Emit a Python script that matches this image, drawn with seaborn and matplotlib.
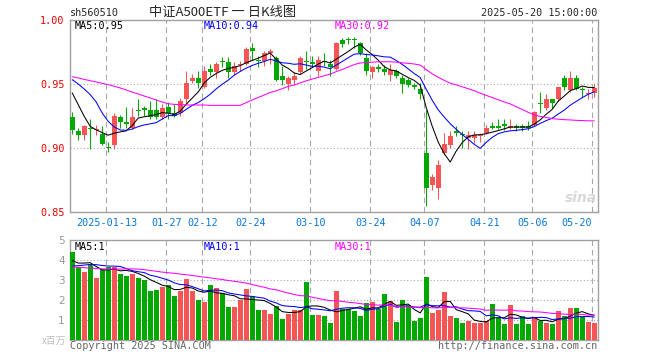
from __future__ import annotations

import matplotlib
matplotlib.use("Agg")
import matplotlib.pyplot as plt
import numpy as np
import pandas as pd
import seaborn as sns

FIG_W, FIG_H = 660, 360
RED = "#f65555"
GREEN = "#00a800"
MA_COLORS = {"MA5": "#000000", "MA10": "#0000ff", "MA30": "#ff00ff"}
MONO = "DejaVu Sans Mono"
CJK = ["Noto Sans CJK SC", "DejaVu Sans"]

# exchange closed on these weekdays
HOLIDAYS = [
    "2025-01-28", "2025-01-29", "2025-01-30", "2025-01-31", "2025-02-03",
    "2025-02-04", "2025-04-04", "2025-05-01", "2025-05-02", "2025-05-05",
]

OPEN = [
    0.924, 0.913, 0.910, 0.916, 0.914, 0.911, 0.901, 0.902, 0.924, 0.920,
    0.916, 0.930, 0.931, 0.930, 0.930, 0.924, 0.932, 0.927, 0.927, 0.938,
    0.952, 0.955, 0.948, 0.962, 0.959, 0.968, 0.967, 0.959, 0.965, 0.966,
    0.978, 0.969, 0.968, 0.974, 0.970, 0.956, 0.950, 0.953, 0.959, 0.968,
    0.967, 0.960, 0.968, 0.966, 0.962, 0.984, 0.985, 0.985, 0.982, 0.970,
    0.959, 0.963, 0.962, 0.957, 0.960, 0.955, 0.953, 0.949, 0.946, 0.896,
    0.871, 0.869, 0.896, 0.902, 0.913, 0.911, 0.908, 0.908, 0.909, 0.912,
    0.917, 0.917, 0.919, 0.916, 0.917, 0.917, 0.917, 0.918, 0.935, 0.931,
    0.938, 0.938, 0.955, 0.945, 0.955, 0.946, 0.942, 0.943,
]
HIGH = [
    0.928, 0.916, 0.918, 0.923, 0.918, 0.917, 0.905, 0.927, 0.926, 0.932,
    0.931, 0.938, 0.933, 0.937, 0.938, 0.934, 0.936, 0.934, 0.939, 0.960,
    0.958, 0.960, 0.964, 0.966, 0.967, 0.971, 0.971, 0.967, 0.968, 0.979,
    0.982, 0.972, 0.976, 0.977, 0.972, 0.964, 0.956, 0.959, 0.972, 0.976,
    0.972, 0.972, 0.974, 0.969, 0.983, 0.986, 0.987, 0.987, 0.983, 0.974,
    0.964, 0.966, 0.965, 0.966, 0.962, 0.957, 0.955, 0.951, 0.951, 0.930,
    0.880, 0.891, 0.912, 0.913, 0.917, 0.913, 0.913, 0.913, 0.912, 0.918,
    0.920, 0.923, 0.923, 0.923, 0.919, 0.919, 0.921, 0.929, 0.944, 0.942,
    0.938, 0.948, 0.957, 0.960, 0.957, 0.948, 0.946, 0.950,
]
LOW = [
    0.911, 0.906, 0.906, 0.899, 0.910, 0.902, 0.897, 0.899, 0.916, 0.916,
    0.915, 0.925, 0.925, 0.923, 0.923, 0.923, 0.923, 0.924, 0.925, 0.935,
    0.951, 0.947, 0.947, 0.957, 0.955, 0.963, 0.955, 0.957, 0.960, 0.965,
    0.969, 0.963, 0.964, 0.966, 0.952, 0.949, 0.945, 0.949, 0.958, 0.962,
    0.963, 0.956, 0.964, 0.956, 0.961, 0.979, 0.981, 0.978, 0.973, 0.957,
    0.955, 0.959, 0.957, 0.952, 0.955, 0.943, 0.948, 0.946, 0.938, 0.855,
    0.867, 0.860, 0.895, 0.900, 0.909, 0.900, 0.899, 0.904, 0.905, 0.911,
    0.915, 0.915, 0.914, 0.915, 0.913, 0.913, 0.914, 0.917, 0.927, 0.930,
    0.931, 0.937, 0.945, 0.944, 0.945, 0.940, 0.938, 0.940,
]
CLOSE = [
    0.914, 0.910, 0.917, 0.915, 0.915, 0.903, 0.900, 0.925, 0.920, 0.919,
    0.924, 0.929, 0.930, 0.924, 0.924, 0.931, 0.927, 0.925, 0.937, 0.951,
    0.955, 0.951, 0.960, 0.959, 0.966, 0.967, 0.959, 0.964, 0.966, 0.977,
    0.976, 0.968, 0.974, 0.976, 0.953, 0.953, 0.955, 0.956, 0.970, 0.967,
    0.966, 0.969, 0.967, 0.963, 0.982, 0.981, 0.984, 0.984, 0.974, 0.960,
    0.963, 0.962, 0.959, 0.961, 0.956, 0.950, 0.949, 0.948, 0.942, 0.869,
    0.877, 0.887, 0.903, 0.909, 0.912, 0.910, 0.910, 0.910, 0.910, 0.916,
    0.916, 0.916, 0.917, 0.917, 0.916, 0.916, 0.916, 0.928, 0.934, 0.938,
    0.935, 0.948, 0.948, 0.955, 0.946, 0.945, 0.943, 0.947,
]
# volume in millions (x百万)
VOLUME = [
    4.42, 3.65, 3.42, 3.78, 3.12, 3.57, 3.65, 3.65, 3.33, 3.22,
    3.33, 3.12, 3.00, 2.45, 2.53, 2.65, 2.78, 2.23, 2.48, 3.07,
    2.48, 2.03, 1.92, 2.78, 2.62, 2.37, 1.67, 1.67, 2.03, 2.57,
    2.23, 1.53, 1.53, 1.32, 1.70, 1.07, 1.32, 1.53, 1.53, 2.92,
    1.28, 1.28, 1.20, 0.87, 2.48, 1.58, 1.58, 1.48, 1.23, 1.87,
    1.92, 1.58, 2.32, 1.98, 0.92, 2.03, 1.78, 0.98, 1.12, 3.17,
    1.37, 1.53, 2.42, 1.20, 1.12, 0.87, 0.98, 0.87, 0.87, 0.98,
    1.82, 1.12, 0.82, 1.75, 0.82, 1.20, 0.82, 1.12, 0.98, 0.87,
    0.82, 1.48, 1.23, 1.62, 1.62, 1.20, 0.92, 0.87,
]

# moving average values before a full window exists
MA5_HEAD = [0.9430, 0.9339, 0.9247, 0.9169]
MA10_HEAD = [0.9534, 0.9500, 0.9461, 0.9417, 0.9359, 0.9273, 0.9208, 0.9164, 0.9141]
MA30_HEAD = [
    0.9557, 0.9547, 0.9536, 0.9526, 0.9516, 0.9505, 0.9495, 0.9482, 0.9469, 0.9453,
    0.9437, 0.9422, 0.9406, 0.9391, 0.9375, 0.9359, 0.9346, 0.9341, 0.9339, 0.9336,
    0.9336, 0.9336, 0.9336, 0.9333, 0.9333, 0.9333, 0.9333, 0.9333, 0.9333,
]
VOL_MA5_HEAD = [3.98, 3.85, 3.85, 3.87]
VOL_MA10_HEAD = [3.70, 3.72, 3.75, 3.78, 3.77, 3.73, 3.70, 3.70, 3.68]
VOL_MA30_HEAD = [
    3.66, 3.64, 3.62, 3.60, 3.58, 3.56, 3.55, 3.55, 3.55, 3.56,
    3.56, 3.55, 3.52, 3.48, 3.44, 3.40, 3.37, 3.34, 3.30, 3.27,
    3.23, 3.19, 3.15, 3.11, 3.07, 3.03, 2.98, 2.94, 2.90,
]

TICK_DATES = [
    "2025-01-13", "2025-01-27", "2025-02-12", "2025-02-24", "2025-03-10",
    "2025-03-24", "2025-04-07", "2025-04-21", "2025-05-06", "2025-05-20",
]
TICK_LABELS = [
    "2025-01-13", "01-27", "02-12", "02-24", "03-10",
    "03-24", "04-07", "04-21", "05-06", "05-20",
]
PRICE_TICKS = [0.85, 0.90, 0.95, 1.00]
VOLUME_TICKS = [1, 2, 3, 4, 5]


def _moving_average(values: list[float], window: int, head: list[float]) -> np.ndarray:
    ma = pd.Series(values).rolling(window).mean().to_numpy()
    ma[: len(head)] = head
    return ma


def _px_text(fig: plt.Figure, x: float, y: float, text: str, **kwargs) -> None:
    fig.text(x / FIG_W, 1 - y / FIG_H, text, **kwargs)


def _style_axes(ax: plt.Axes) -> None:
    for spine in ax.spines.values():
        spine.set_color("#a0a0a0")
        spine.set_linewidth(1.0)
    ax.set_xlabel("")
    ax.set_ylabel("")


sns.set_style("white")
plt.rcParams["font.family"] = ["DejaVu Sans"]

trade_days = pd.bdate_range("2025-01-03", "2025-05-20")
trade_days = trade_days[~trade_days.isin(pd.to_datetime(HOLIDAYS))]

df = pd.DataFrame(
    {
        "date": trade_days,
        "open": OPEN,
        "high": HIGH,
        "low": LOW,
        "close": CLOSE,
        "volume": VOLUME,
    }
)
df["idx"] = np.arange(len(df))
df["trend"] = np.where(df["close"] >= df["open"], "up", "down")
palette = {"up": RED, "down": GREEN}
colors = df["trend"].map(palette).to_numpy()

price_ma = {
    "MA5": _moving_average(CLOSE, 5, MA5_HEAD),
    "MA10": _moving_average(CLOSE, 10, MA10_HEAD),
    "MA30": _moving_average(CLOSE, 30, MA30_HEAD),
}
volume_ma = {
    "MA5": _moving_average(VOLUME, 5, VOL_MA5_HEAD),
    "MA10": _moving_average(VOLUME, 10, VOL_MA10_HEAD),
    "MA30": _moving_average(VOLUME, 30, VOL_MA30_HEAD),
}

tick_pos = [int(np.flatnonzero(df["date"] == pd.Timestamp(d))[0]) - 0.3 for d in TICK_DATES]

fig = plt.figure(figsize=(FIG_W / 100, FIG_H / 100), dpi=100)
ax = fig.add_axes([70.3 / FIG_W, 1 - 212 / FIG_H, 527.4 / FIG_W, 192 / FIG_H])
ax_vol = fig.add_axes([70.3 / FIG_W, 1 - 340.3 / FIG_H, 527.4 / FIG_W, 100.3 / FIG_H])

# grid: dashed date lines, dotted level lines
for pos in tick_pos:
    ax.axvline(pos, color="#a8a8a8", lw=0.8, ls=(0, (5, 3.5)), zorder=1)
    ax_vol.axvline(pos, color="#a8a8a8", lw=0.8, ls=(0, (5, 3.5)), zorder=1)
for level in PRICE_TICKS[1:-1]:
    ax.axhline(level, color="#a8a8a8", lw=0.8, ls=(0, (1, 2)), zorder=1)
for level in VOLUME_TICKS[:-1]:
    ax_vol.axhline(level, color="#a8a8a8", lw=0.8, ls=(0, (1, 2)), zorder=1)

# candles
ax.vlines(df["idx"], df["low"], df["high"], colors=colors, lw=0.75, zorder=3)
body_bottom = np.minimum(df["open"], df["close"])
body_height = np.maximum((df["close"] - df["open"]).abs(), 0.0008)
ax.bar(df["idx"], body_height, bottom=body_bottom, width=0.8, color=colors, lw=0, zorder=4)

for name, values in price_ma.items():
    sns.lineplot(x=df["idx"], y=values, color=MA_COLORS[name], linewidth=0.75, ax=ax, zorder=5)

ax.set_xlim(-0.32, 87.58)
ax.set_ylim(0.85, 1.00)
ax.set_yticks(PRICE_TICKS)
ax.set_yticklabels([f"{v:.2f}" for v in PRICE_TICKS], fontfamily=MONO, fontsize=7.3, color="#ee0000")
ax.set_xticks(tick_pos)
ax.set_xticklabels(TICK_LABELS, fontfamily=MONO, fontsize=7.3, color="#0a78d8")
ax.get_xticklabels()[-1].set_ha("right")
ax.tick_params(axis="both", length=0)
ax.tick_params(axis="x", pad=4)
ax.tick_params(axis="y", pad=4)
_style_axes(ax)

# volume panel
sns.barplot(
    data=df,
    x="idx",
    y="volume",
    hue="trend",
    palette=palette,
    native_scale=True,
    dodge=False,
    width=0.8,
    saturation=1,
    errorbar=None,
    legend=False,
    linewidth=0,
    ax=ax_vol,
    zorder=3,
)
for name, values in volume_ma.items():
    sns.lineplot(x=df["idx"], y=values, color=MA_COLORS[name], linewidth=0.75, ax=ax_vol, zorder=5)

ax_vol.set_xlim(-0.32, 87.58)
ax_vol.set_ylim(0, 5)
ax_vol.set_xticks([])
ax_vol.set_yticks(VOLUME_TICKS)
ax_vol.set_yticklabels([str(v) for v in VOLUME_TICKS], fontsize=7.5, color="#999999")
ax_vol.tick_params(axis="both", length=0)
ax_vol.tick_params(axis="y", pad=4)
_style_axes(ax_vol)

# header and legends
_px_text(fig, 70, 13, "sh560510", fontfamily=MONO, fontsize=7.3, va="center", ha="left")
_px_text(fig, 223, 12, "中证A500ETF 一 日K线图", family=CJK, fontsize=9.5, va="center", ha="center")
_px_text(fig, 597, 13, "2025-05-20 15:00:00", fontfamily=MONO, fontsize=7.3, va="center", ha="right")

for (name, values), x in zip(price_ma.items(), [75, 204, 335]):
    _px_text(fig, x, 26, f"{name}:{values[-1]:.2f}", fontfamily=MONO, fontsize=7.3,
             color=MA_COLORS[name], va="center", ha="left")
for (name, values), x in zip(volume_ma.items(), [75, 204, 335]):
    _px_text(fig, x, 246.5, f"{name}:{values[-1]:.0f}", fontfamily=MONO, fontsize=7.3,
             color=MA_COLORS[name], va="center", ha="left")

_px_text(fig, 66, 341, "x百万", family=CJK, fontsize=7, color="#c0c0c0", va="center", ha="right")
_px_text(fig, 70, 346, "Copyright 2025 SINA.COM", fontfamily=MONO, fontsize=7.3,
         color="#666666", va="center", ha="left")
_px_text(fig, 597, 346, "http://finance.sina.com.cn", fontfamily=MONO, fontsize=7.3,
         color="#666666", va="center", ha="right")
_px_text(fig, 581, 198, "sina", fontsize=10, fontweight="bold", fontstyle="italic",
         color="#d9d9d9", va="center", ha="center", zorder=0)

fig.savefig("out.png", dpi=100)
plt.close(fig)
